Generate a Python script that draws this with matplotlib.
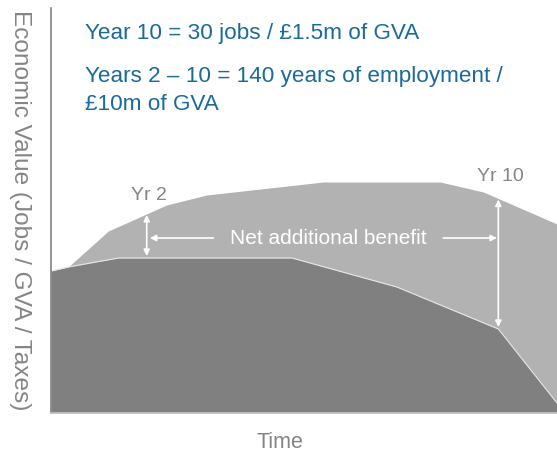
import numpy as np
import matplotlib
matplotlib.use("Agg")
import matplotlib.pyplot as plt

plt.rcParams['font.family'] = ['Liberation Sans', 'DejaVu Sans']

# counterfactual (dark) and with-intervention (light) profiles, time in years
dark_x = [-0.17, 0.22, 1.36, 5.29, 7.67, 9.97, 11.3]
dark_y = [142, 146, 155, 155, 126, 84, 10]
light_x = [0.22, 1.13, 2.45, 3.36, 6.0, 8.65, 9.63, 11.3]
light_y = [146, 182, 208, 218, 231, 231, 221, 189]

marker_years = [2.0, 9.97]
marker_labels = ["Yr 2", "Yr 10"]

headline = ["Year 10 = 30 jobs / £1.5m of GVA",
            "Years 2 \u2013 10 = 140 years of employment /",
            "£10m of GVA"]

blue = "#1a6a9a"
grey_txt = "#858585"

fig = plt.figure(figsize=(5.57, 4.55), dpi=100)
ax = fig.add_axes([51 / 557, 42 / 455, 506 / 557, 405 / 455])
ax.set_xlim(-0.17, 11.3)
ax.set_ylim(0, 405)

ax.fill_between(light_x, light_y, 0, color="#b2b2b2", lw=0)
ax.fill_between(dark_x, dark_y, 0, color="#808080", lw=0)
ax.plot(dark_x, dark_y, color="#e8e8e8", lw=0.8)

for sp in ["top", "right"]:
    ax.spines[sp].set_visible(False)
ax.spines["left"].set_color("#808080")
ax.spines["left"].set_linewidth(1.2)
ax.spines["bottom"].set_color("#c8c8c8")
ax.spines["bottom"].set_linewidth(1.2)
ax.set_xticks([])
ax.set_yticks([])

# vertical double arrows at Yr 2 and Yr 10
for yr, lab, dy in zip(marker_years, marker_labels, [14, 18]):
    lo = np.interp(yr, dark_x, dark_y)
    hi = np.interp(yr, light_x, light_y)
    ax.annotate("", xy=(yr, hi - 1), xytext=(yr, lo + 2),
                arrowprops=dict(arrowstyle="<|-|>", color="white", lw=1.2,
                                mutation_scale=9, shrinkA=0, shrinkB=0))
    ax.text(yr + 0.05, hi + dy, lab, ha="center", va="baseline",
            fontsize=14, color=grey_txt)

# Net additional benefit label with horizontal arrows
ax.text(6.11, 175, "Net additional benefit", ha="center", va="center",
        fontsize=15, color="white")
ax.annotate("", xy=(2.07, 175), xytext=(3.51, 175),
            arrowprops=dict(arrowstyle="-|>", color="white", lw=1.2,
                            mutation_scale=9, shrinkA=0, shrinkB=0))
ax.annotate("", xy=(9.94, 175), xytext=(8.72, 175),
            arrowprops=dict(arrowstyle="-|>", color="white", lw=1.2,
                            mutation_scale=9, shrinkA=0, shrinkB=0))

# headline text
ax.text(0.6, 374, headline[0], fontsize=16.2, color=blue, va="baseline")
ax.text(0.6, 331, headline[1], fontsize=16.2, color=blue, va="baseline")
ax.text(0.6, 303, headline[2], fontsize=16.2, color=blue, va="baseline")

fig.text(280 / 557, 1 - 442 / 455, "Time", ha="center", va="center",
         fontsize=15.5, color=grey_txt)
fig.text(20 / 557, 1 - 210 / 455, "Economic Value (Jobs / GVA / Taxes)",
         rotation=-90, ha="center", va="center", fontsize=17.6, color=grey_txt)

fig.savefig("out.png", dpi=100)
